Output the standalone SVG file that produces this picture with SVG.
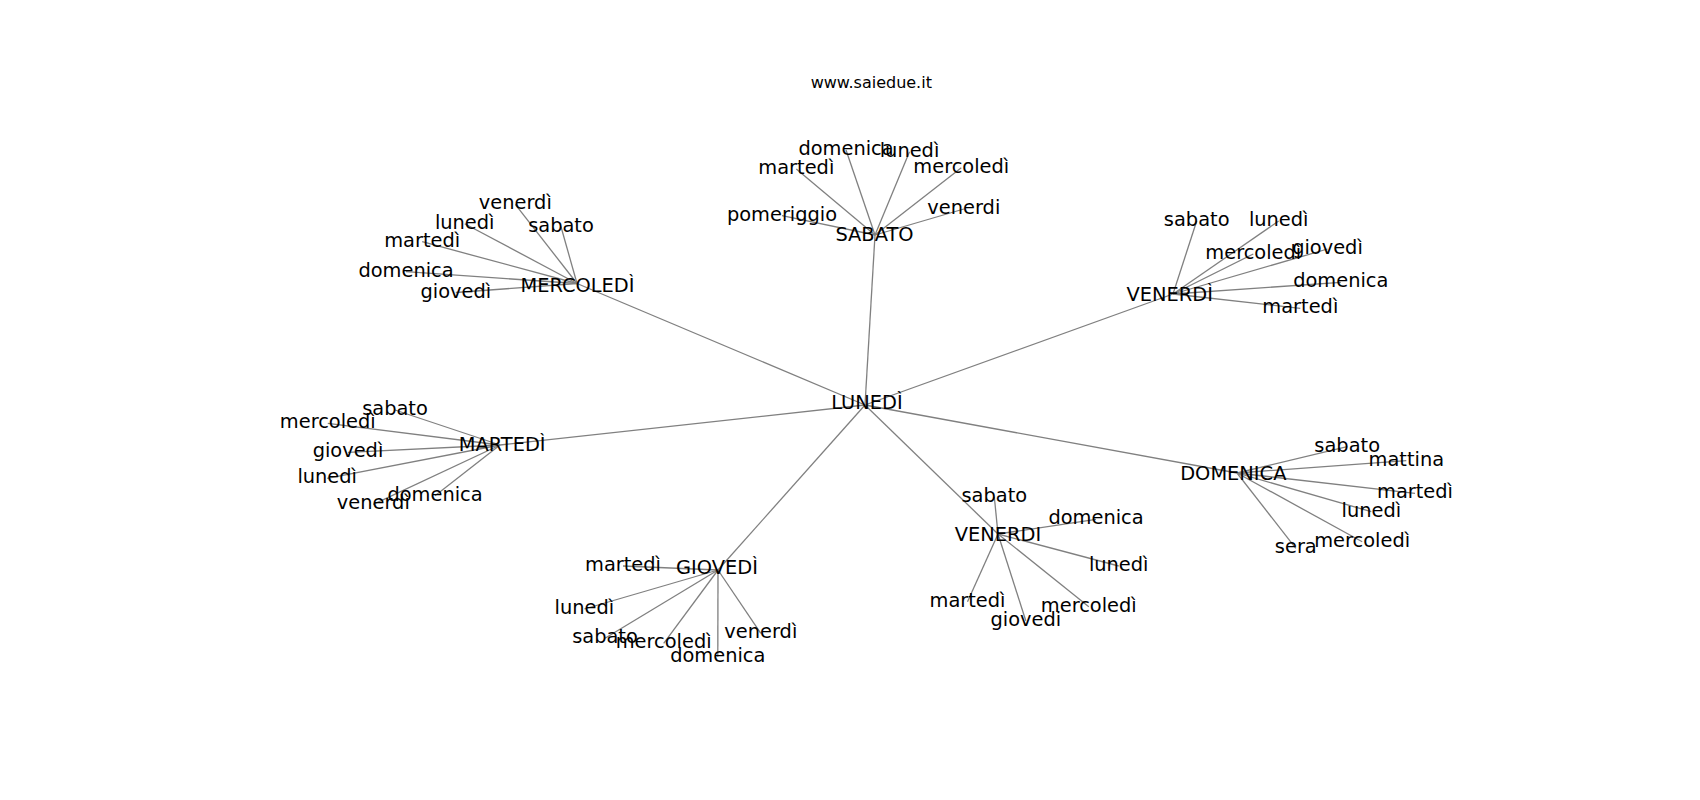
<svg xmlns="http://www.w3.org/2000/svg" width="1700" height="800" viewBox="0 0 1700 800">
<style>
text{font-family:"DejaVu Sans","Liberation Sans",sans-serif;fill:#000;text-anchor:middle}
.n text{font-size:19.4px}
.t{font-size:16px}
#edges line{stroke:#808080;stroke-width:1.3}
</style>
<rect width="1700" height="800" fill="#fff"/>
<text class="t" x="871.3" y="88">www.saiedue.it</text>
<g id="edges">
<line x1="865" y1="405" x2="875" y2="235"/>
<line x1="865" y1="405" x2="577" y2="283.5"/>
<line x1="865" y1="405" x2="1173" y2="294"/>
<line x1="865" y1="405" x2="500" y2="445"/>
<line x1="865" y1="405" x2="718" y2="570"/>
<line x1="865" y1="405" x2="998" y2="534"/>
<line x1="865" y1="405" x2="1237" y2="473"/>
<line x1="875" y1="235" x2="846" y2="150"/>
<line x1="875" y1="235" x2="909.5" y2="151.7"/>
<line x1="875" y1="235" x2="796.3" y2="169"/>
<line x1="875" y1="235" x2="961.3" y2="167.7"/>
<line x1="875" y1="235" x2="963.8" y2="209"/>
<line x1="875" y1="235" x2="782" y2="215.7"/>
<line x1="577" y1="283.5" x2="515.3" y2="204.3"/>
<line x1="577" y1="283.5" x2="561" y2="226.7"/>
<line x1="577" y1="283.5" x2="464.7" y2="223.7"/>
<line x1="577" y1="283.5" x2="422.2" y2="241.7"/>
<line x1="577" y1="283.5" x2="406" y2="271.7"/>
<line x1="577" y1="283.5" x2="455.8" y2="292.5"/>
<line x1="1173" y1="294" x2="1196.7" y2="221"/>
<line x1="1173" y1="294" x2="1278.7" y2="221"/>
<line x1="1173" y1="294" x2="1253.3" y2="254"/>
<line x1="1173" y1="294" x2="1327.5" y2="249"/>
<line x1="1173" y1="294" x2="1340.8" y2="282.3"/>
<line x1="1173" y1="294" x2="1300.3" y2="308.3"/>
<line x1="500" y1="445" x2="395" y2="410"/>
<line x1="500" y1="445" x2="327.8" y2="423.3"/>
<line x1="500" y1="445" x2="348" y2="452.3"/>
<line x1="500" y1="445" x2="327.2" y2="478.3"/>
<line x1="500" y1="445" x2="435" y2="495.7"/>
<line x1="500" y1="445" x2="373.3" y2="504.3"/>
<line x1="718" y1="570" x2="623" y2="566"/>
<line x1="718" y1="570" x2="584.3" y2="609"/>
<line x1="718" y1="570" x2="605" y2="638.3"/>
<line x1="718" y1="570" x2="663.7" y2="643.3"/>
<line x1="718" y1="570" x2="717.8" y2="656.7"/>
<line x1="718" y1="570" x2="760.8" y2="633.3"/>
<line x1="998" y1="534" x2="994.3" y2="496.7"/>
<line x1="998" y1="534" x2="1096" y2="519.3"/>
<line x1="998" y1="534" x2="1118.7" y2="566"/>
<line x1="998" y1="534" x2="967.5" y2="601.7"/>
<line x1="998" y1="534" x2="1025.8" y2="620.7"/>
<line x1="998" y1="534" x2="1088.8" y2="606.7"/>
<line x1="1237" y1="473" x2="1347.2" y2="446.7"/>
<line x1="1237" y1="473" x2="1406.3" y2="460.7"/>
<line x1="1237" y1="473" x2="1415" y2="493.3"/>
<line x1="1237" y1="473" x2="1371.3" y2="511.7"/>
<line x1="1237" y1="473" x2="1362.2" y2="541.7"/>
<line x1="1237" y1="473" x2="1295.8" y2="548.3"/>
</g>
<g class="n">
<g id="n-lunedi"><text x="867" y="409.3">LUNEDÌ</text></g>
<g id="n-sabato"><text x="874.5" y="241">SABATO</text></g>
<g id="n-mercoledi"><text x="577.5" y="292.3">MERCOLEDÌ</text></g>
<g id="n-venerdi-acc"><text x="1169.7" y="301">VENERDÌ</text></g>
<g id="n-martedi"><text x="502.2" y="451">MARTEDÌ</text></g>
<g id="n-giovedi"><text x="717" y="574.3">GIOVEDÌ</text></g>
<g id="n-venerdi"><text x="998" y="541">VENERDI</text></g>
<g id="n-domenica"><text x="1233.3" y="480">DOMENICA</text></g>

<g id="sab-domenica"><text x="846" y="155">domenica</text></g>
<g id="sab-lunedi"><text x="909.5" y="156.7">lunedì</text></g>
<g id="sab-martedi"><text x="796.3" y="174">martedì</text></g>
<g id="sab-mercoledi"><text x="961.3" y="172.7">mercoledì</text></g>
<g id="sab-venerdi"><text x="963.8" y="214">venerdi</text></g>
<g id="sab-pomeriggio"><text x="782" y="220.7">pomeriggio</text></g>

<g id="mer-venerdi"><text x="515.3" y="209.3">venerdì</text></g>
<g id="mer-sabato"><text x="561" y="231.7">sabato</text></g>
<g id="mer-lunedi"><text x="464.7" y="228.7">lunedì</text></g>
<g id="mer-martedi"><text x="422.2" y="246.7">martedì</text></g>
<g id="mer-domenica"><text x="406" y="276.7">domenica</text></g>
<g id="mer-giovedi"><text x="455.8" y="297.5">giovedì</text></g>

<g id="ven-sabato"><text x="1196.7" y="226">sabato</text></g>
<g id="ven-lunedi"><text x="1278.7" y="226">lunedì</text></g>
<g id="ven-mercoledi"><text x="1253.3" y="259">mercoledì</text></g>
<g id="ven-giovedi"><text x="1327.5" y="254">giovedì</text></g>
<g id="ven-domenica"><text x="1340.8" y="287.3">domenica</text></g>
<g id="ven-martedi"><text x="1300.3" y="313.3">martedì</text></g>

<g id="mar-sabato"><text x="395" y="415">sabato</text></g>
<g id="mar-mercoledi"><text x="327.8" y="428.3">mercoledì</text></g>
<g id="mar-giovedi"><text x="348" y="457.3">giovedì</text></g>
<g id="mar-lunedi"><text x="327.2" y="483.3">lunedì</text></g>
<g id="mar-domenica"><text x="435" y="500.7">domenica</text></g>
<g id="mar-venerdi"><text x="373.3" y="509.3">venerdì</text></g>

<g id="gio-martedi"><text x="623" y="571">martedì</text></g>
<g id="gio-lunedi"><text x="584.3" y="614">lunedì</text></g>
<g id="gio-sabato"><text x="605" y="643.3">sabato</text></g>
<g id="gio-mercoledi"><text x="663.7" y="648.3">mercoledì</text></g>
<g id="gio-domenica"><text x="717.8" y="661.7">domenica</text></g>
<g id="gio-venerdi"><text x="760.8" y="638.3">venerdì</text></g>

<g id="vnd-sabato"><text x="994.3" y="501.7">sabato</text></g>
<g id="vnd-domenica"><text x="1096" y="524.3">domenica</text></g>
<g id="vnd-lunedi"><text x="1118.7" y="571">lunedì</text></g>
<g id="vnd-martedi"><text x="967.5" y="606.7">martedì</text></g>
<g id="vnd-giovedi"><text x="1025.8" y="625.7">giovedi</text></g>
<g id="vnd-mercoledi"><text x="1088.8" y="611.7">mercoledì</text></g>

<g id="dom-sabato"><text x="1347.2" y="451.7">sabato</text></g>
<g id="dom-mattina"><text x="1406.3" y="465.7">mattina</text></g>
<g id="dom-martedi"><text x="1415" y="498.3">martedì</text></g>
<g id="dom-lunedi"><text x="1371.3" y="516.7">lunedì</text></g>
<g id="dom-mercoledi"><text x="1362.2" y="546.7">mercoledì</text></g>
<g id="dom-sera"><text x="1295.8" y="553.3">sera</text></g>
</g>
</svg>
